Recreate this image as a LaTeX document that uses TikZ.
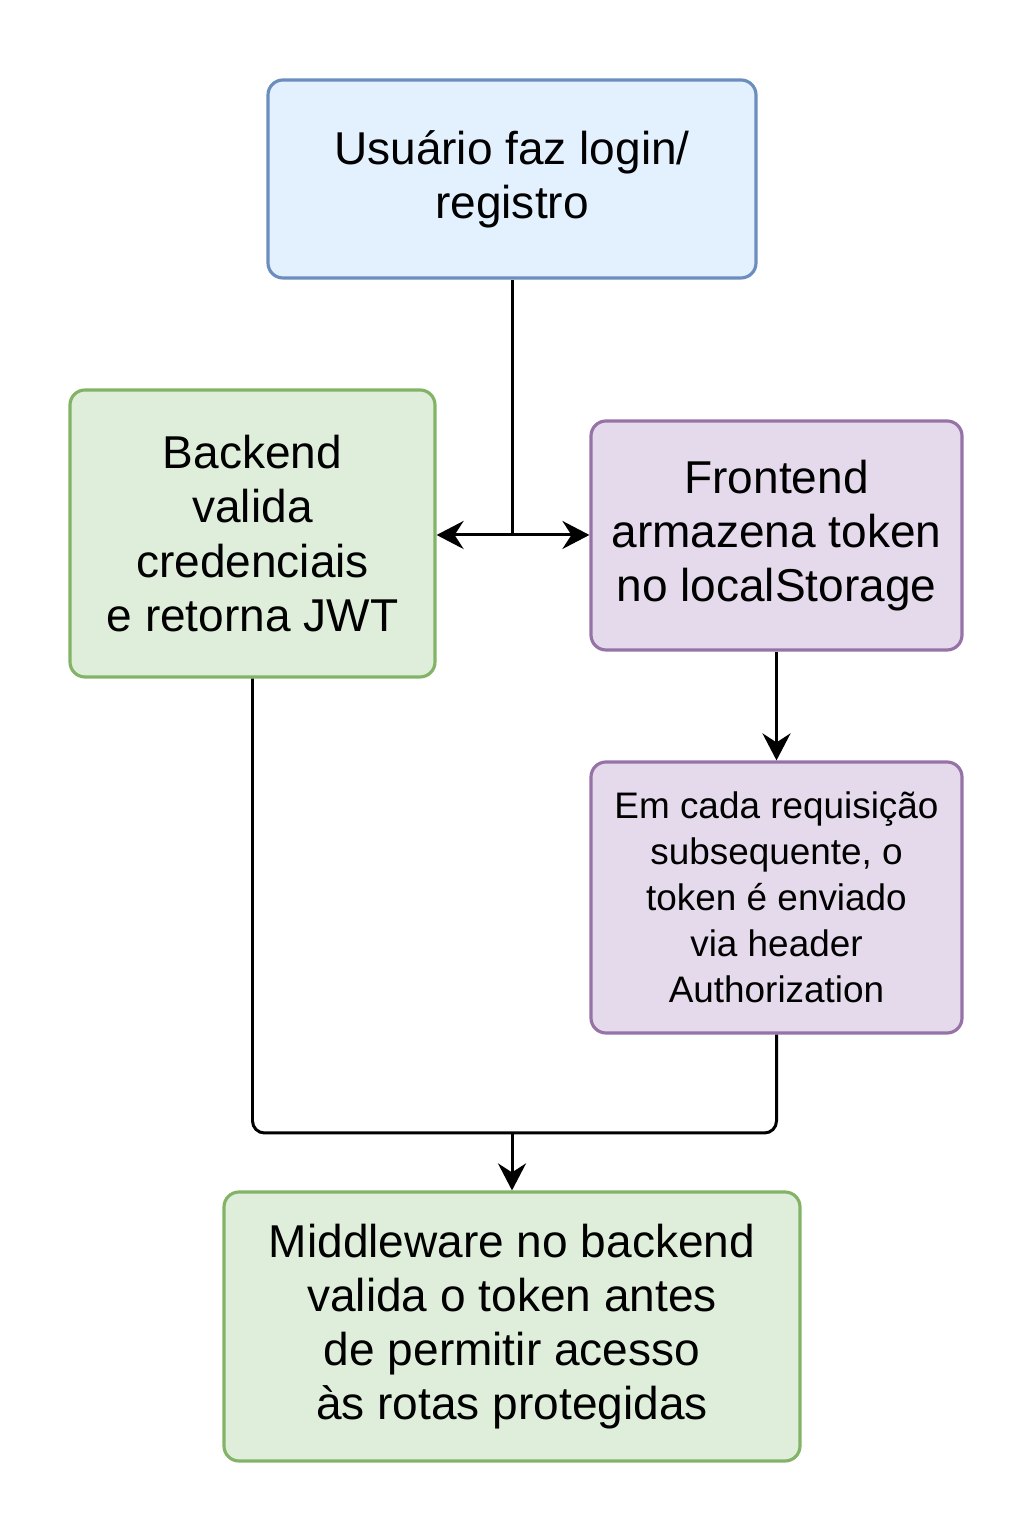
\documentclass[tikz,border=0pt]{standalone}
\usepackage{fontspec}
\setmainfont{Liberation Sans}
\usetikzlibrary{arrows.meta}

\definecolor{bluefill}{HTML}{E3F0FD}
\definecolor{blueline}{HTML}{6C8EBF}
\definecolor{greenfill}{HTML}{DFEEDA}
\definecolor{greenline}{HTML}{82B366}
\definecolor{purplefill}{HTML}{E5DAEC}
\definecolor{purpleline}{HTML}{9673A6}

\begin{document}
\begin{tikzpicture}[>={Stealth[length=2.7mm, width=2.8mm, inset=0.9mm]},
    box/.style = {rounded corners=0.15cm, line width=0.9pt, align=center,
                  inner sep=0pt, font=\fontsize{13.1}{15.4}\selectfont},
    bluebox/.style = {box, fill=bluefill, draw=blueline},
    greenbox/.style = {box, fill=greenfill, draw=greenline},
    purplebox/.style = {box, fill=purplefill, draw=purpleline},
    link/.style = {line width=0.85pt}]
          \useasboundingbox (0,0) rectangle (10.24,15.36);
          \node[bluebox, minimum width=4.88cm, minimum height=1.98cm] (login) at (5.12,13.57)
               {Usuário faz login/\\registro};
          \node[greenbox, minimum width=3.65cm, minimum height=2.87cm] (backend) at (2.525,10.025)
               {Backend\\valida\\credenciais\\e retorna JWT};
          \node[purplebox, minimum width=3.71cm, minimum height=2.29cm] (frontend) at (7.765,10.005)
               {Frontend\\armazena token\\no localStorage};
          \node[purplebox, minimum width=3.71cm, minimum height=2.71cm,
                font=\fontsize{10.5}{13.1}\selectfont] (header) at (7.765,6.385)
               {Em cada requisição\\subsequente, o\\token é enviado\\via header\\Authorization};
          \node[greenbox, minimum width=5.76cm, minimum height=2.69cm] (middleware) at (5.12,2.095)
               {Middleware no backend\\valida o token antes\\de permitir acesso\\às rotas protegidas};
          % connectors
          \coordinate (split) at (5.12,10.01);
          \coordinate (merge) at (5.12,4.03);
          \draw[link] (login.south) -- (split);
          \draw[link, ->] (split) -- (split -| backend.east);
          \draw[link, ->] (split) -- (split -| frontend.west);
          \draw[link, ->] (frontend.south) -- (header.north);
          \draw[link, rounded corners=0.12cm] (backend.south) |- (merge) -| (header.south);
          \draw[link, ->] (merge) -- (middleware.north);
        \end{tikzpicture}
\end{document}
